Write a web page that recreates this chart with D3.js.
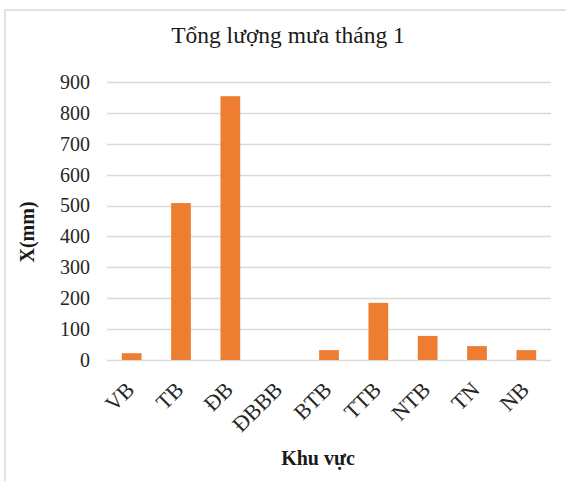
<!DOCTYPE html>
<html>
<head>
<meta charset="utf-8">
<script src="https://cdn.jsdelivr.net/npm/d3@7"></script>
<style>
  body { margin: 0; background: #fff; }
  svg { display: block; }
</style>
</head>
<body>
<svg id="chart" width="566" height="481"></svg>
<script>
// data
var regions = ["VB", "TB", "ĐB", "ĐBBB", "BTB", "TTB", "NTB", "TN", "NB"];
var rainfall = [22, 508, 854, 0, 32, 185, 78, 45, 32];
var yTicks = [0, 100, 200, 300, 400, 500, 600, 700, 800, 900];

var svg = d3.select("#chart"),
    width = 566,
    height = 481;

var font = "'Liberation Serif', 'Times New Roman', serif";
var margin = {left: 107, right: 15, top: 82, bottom: 121};

// chart frame (only the top and left edges show in the crop)
svg.append("path")
    .attr("d", "M5,481 L5,10 L566,10")
    .attr("fill", "none")
    .attr("stroke", "#d9d9d9")
    .attr("stroke-width", 1.5);

var x = d3.scaleBand()
    .domain(regions)
    .range([margin.left, width - margin.right])
    .paddingInner(0.6)
    .paddingOuter(0.3);

var y = d3.scaleLinear()
    .domain([0, 900])
    .range([height - margin.bottom, margin.top]);

// gridlines
svg.append("g")
    .selectAll("line")
    .data(yTicks)
    .enter().append("line")
    .attr("x1", margin.left)
    .attr("x2", width - margin.right)
    .attr("y1", function(d) { return Math.round(y(d)) + 0.5; })
    .attr("y2", function(d) { return Math.round(y(d)) + 0.5; })
    .attr("stroke", "#d9d9d9")
    .attr("stroke-width", 1.3);

// y axis labels
var yAxis = svg.append("g")
    .attr("transform", "translate(" + (margin.left - 17) + ",0)")
    .call(d3.axisLeft(y).tickValues(yTicks).tickSize(0).tickPadding(0));
yAxis.select(".domain").remove();
yAxis.selectAll("text")
    .attr("font-family", font)
    .attr("font-size", 20)
    .attr("fill", "#262626");

// bars
svg.append("g")
    .selectAll("rect")
    .data(regions)
    .enter().append("rect")
    .attr("x", function(d) { return x(d); })
    .attr("width", x.bandwidth())
    .attr("y", function(d, i) { return y(rainfall[i]); })
    .attr("height", function(d, i) { return y(0) - y(rainfall[i]); })
    .attr("fill", "#ed7d31");

// x axis labels, rotated
var xAxis = svg.append("g")
    .attr("transform", "translate(0," + (height - margin.bottom) + ")")
    .call(d3.axisBottom(x).tickSize(0).tickPadding(0));
xAxis.select(".domain").remove();
xAxis.selectAll("text")
    .attr("font-family", font)
    .attr("font-size", 22)
    .attr("fill", "#262626")
    .attr("text-anchor", "end")
    .attr("dy", null)
    .attr("transform", "translate(4,31) rotate(-45)");

// title
svg.append("text")
    .attr("x", 288)
    .attr("y", 43)
    .attr("text-anchor", "middle")
    .attr("font-family", font)
    .attr("font-size", 23.5)
    .attr("fill", "#1a1a1a")
    .text("Tổng lượng mưa tháng 1");

// axis titles
svg.append("text")
    .attr("transform", "translate(34,232) rotate(-90)")
    .attr("text-anchor", "middle")
    .attr("font-family", font)
    .attr("font-size", 20)
    .attr("font-weight", "bold")
    .attr("fill", "#1a1a1a")
    .text("X(mm)");

svg.append("text")
    .attr("x", 318)
    .attr("y", 465)
    .attr("text-anchor", "middle")
    .attr("font-family", font)
    .attr("font-size", 20)
    .attr("font-weight", "bold")
    .attr("fill", "#1a1a1a")
    .text("Khu vực");
</script>
</body>
</html>
